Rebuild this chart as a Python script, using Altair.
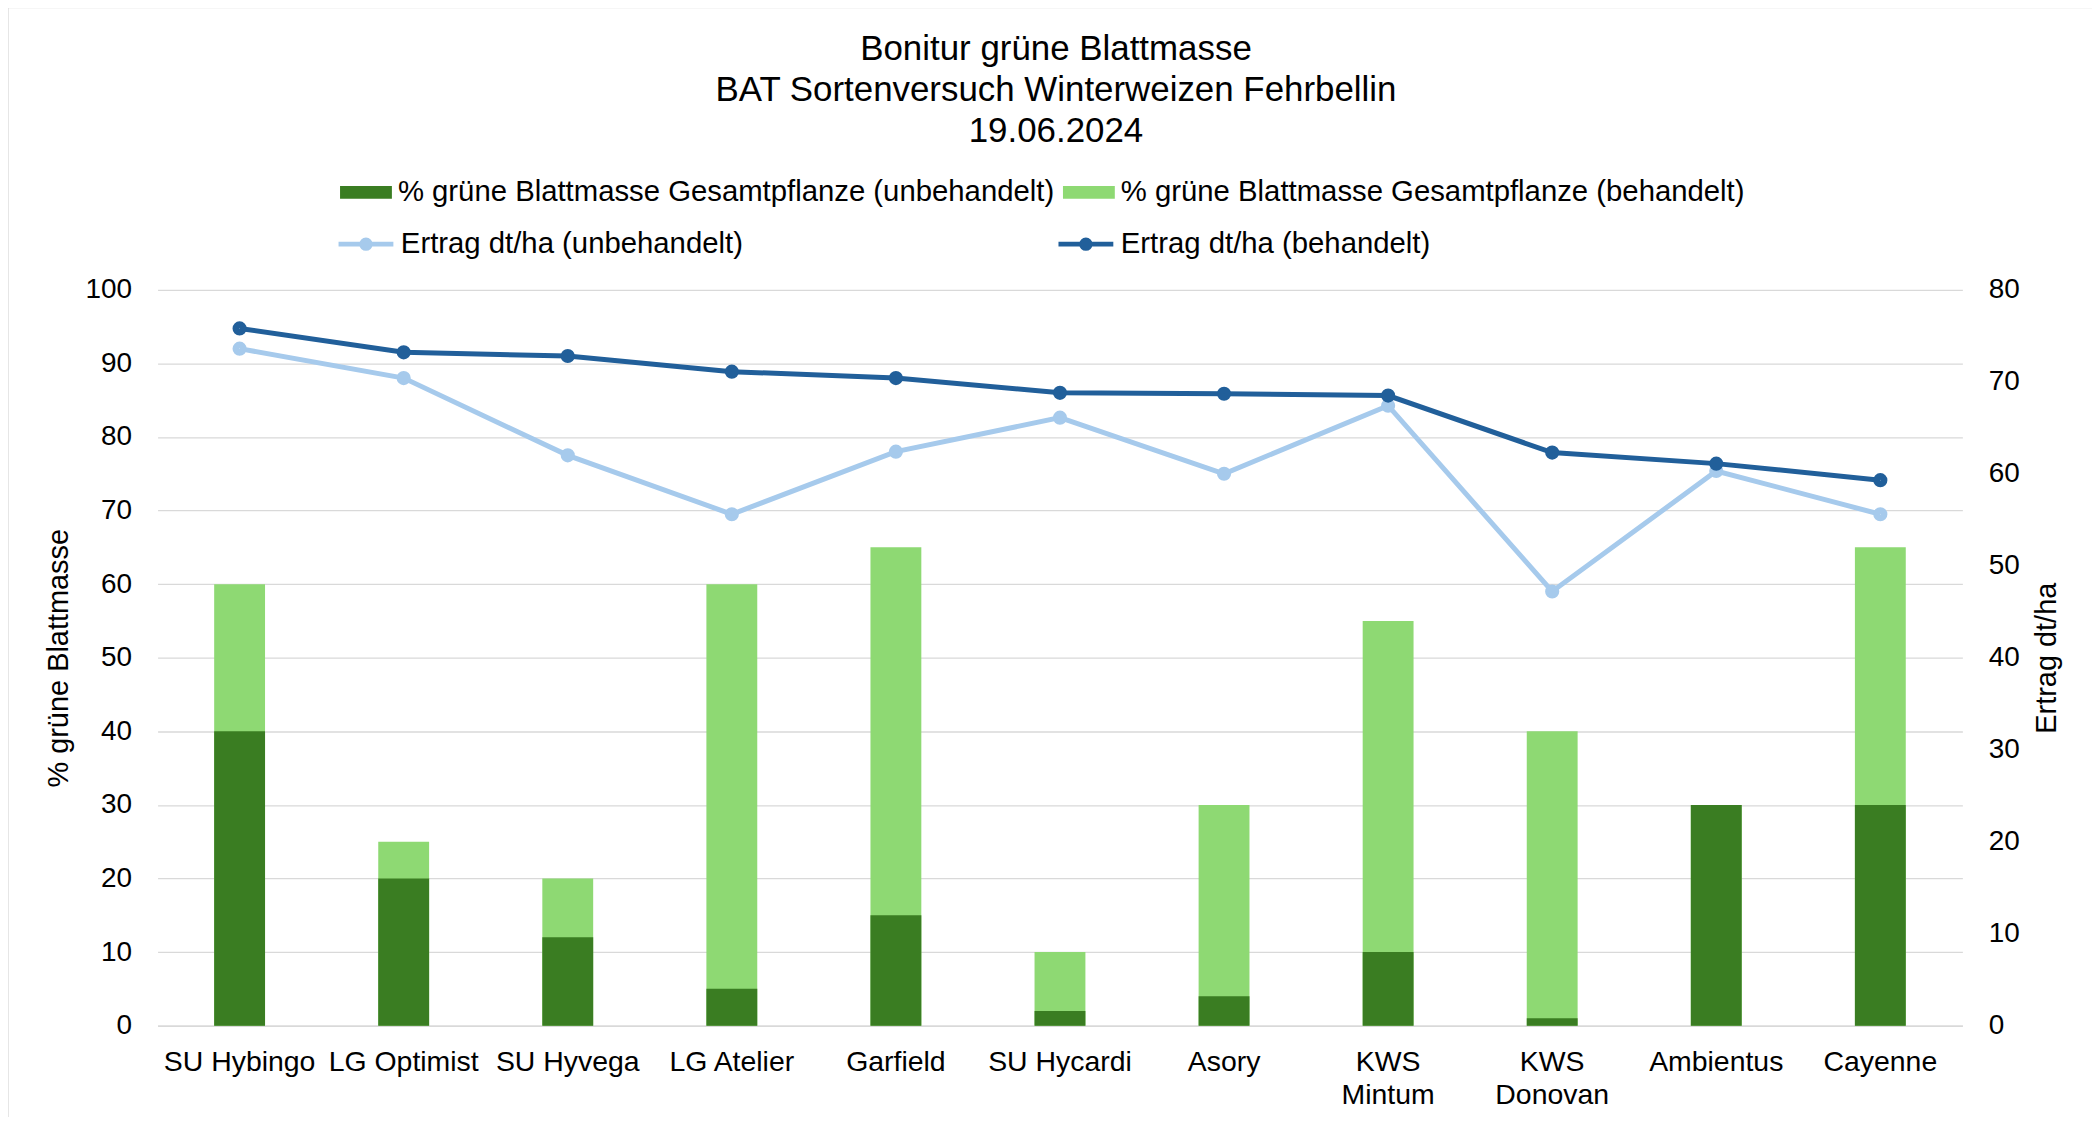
import altair as alt
import pandas as pd

# ---------------- data ----------------
sorten = ["SU Hybingo", "LG Optimist", "SU Hyvega", "LG Atelier", "Garfield",
          "SU Hycardi", "Asory", "KWS Mintum", "KWS Donovan", "Ambientus", "Cayenne"]
gruen_unbehandelt = [40, 20, 12, 5, 15, 2, 4, 10, 1, 30, 30]
gruen_behandelt = [60, 25, 20, 60, 65, 10, 30, 55, 40, 30, 65]
ertrag_unbehandelt = [73.6, 70.4, 62.0, 55.6, 62.4, 66.1, 60.0, 67.4, 47.2, 60.3, 55.6]
ertrag_behandelt = [75.8, 73.2, 72.8, 71.1, 70.4, 68.8, 68.7, 68.5, 62.3, 61.1, 59.3]

bar_series = ["% grüne Blattmasse Gesamtpflanze (unbehandelt)",
              "% grüne Blattmasse Gesamtpflanze (behandelt)"]
line_series = ["Ertrag dt/ha (unbehandelt)", "Ertrag dt/ha (behandelt)"]

title_lines = ["Bonitur grüne Blattmasse", "BAT Sortenversuch Winterweizen Fehrbellin", "19.06.2024"]

# behandelt drawn first (behind), unbehandelt in front
bar_df = pd.DataFrame(
    [{"Sorte": s, "Serie": bar_series[1], "Wert": v} for s, v in zip(sorten, gruen_behandelt)]
    + [{"Sorte": s, "Serie": bar_series[0], "Wert": v} for s, v in zip(sorten, gruen_unbehandelt)]
)
line_df = pd.DataFrame(
    [{"Sorte": s, "Serie": line_series[0], "Ertrag": v} for s, v in zip(sorten, ertrag_unbehandelt)]
    + [{"Sorte": s, "Serie": line_series[1], "Ertrag": v} for s, v in zip(sorten, ertrag_behandelt)]
)

# ---------------- styles ----------------
FONT = "Liberation Sans"
DARK_GREEN = "#3A7D22"
LIGHT_GREEN = "#8ED973"
LIGHT_BLUE = "#A6CAEC"
DARK_BLUE = "#215F9A"
GRID = "#D9D9D9"

x_enc = alt.X(
    "Sorte:N", sort=sorten,
    scale=alt.Scale(paddingInner=0.69, paddingOuter=0.345),
    axis=alt.Axis(
        title=None, labelAngle=0, labelFont=FONT, labelFontSize=28.5, labelColor="black",
        labelPadding=22, ticks=False, tickSize=0, domain=True, domainColor=GRID,
        domainWidth=1.5, labelBaseline="top", labelLineHeight=33, labelOverlap=False,
        labelLimit=400,
        labelExpr="indexof(datum.value, 'KWS ') == 0 ? split(datum.value, ' ') : datum.value",
    ),
)

bar_legend = alt.Legend(
    title=None, orient="none", legendX=183, legendY=-124, direction="horizontal",
    columns=2, columnPadding=8, padding=0,
    symbolType="M-1,-0.25H1V0.25H-1Z", symbolSize=2704, symbolStrokeWidth=0,
    labelFont=FONT, labelFontSize=29.4, labelColor="black", labelOffset=6, labelLimit=1200,
)

LINE_SYMBOL = ("M-1,0H1"
               "M0.155,0A0.155,0.155,0,1,1,-0.155,0A0.155,0.155,0,1,1,0.155,0"
               "M0.073,0A0.073,0.073,0,1,1,-0.073,0A0.073,0.073,0,1,1,0.073,0")
line_legend = alt.Legend(
    title=None, orient="none", legendX=179, legendY=-76, direction="horizontal",
    columns=2, columnPadding=305, padding=0,
    symbolType=LINE_SYMBOL, symbolSize=3025, symbolStrokeWidth=4.8,
    symbolFillColor="transparent",
    labelFont=FONT, labelFontSize=29.4, labelColor="black", labelOffset=5, labelLimit=1200,
)

bars = alt.Chart(bar_df).mark_bar().encode(
    x=x_enc,
    y=alt.Y(
        "Wert:Q", stack=None, scale=alt.Scale(domain=[0, 100]),
        axis=alt.Axis(
            orient="left", values=list(range(0, 101, 10)), grid=True, gridColor=GRID,
            gridWidth=1.3, domain=False, ticks=False, tickSize=0,
            labelFont=FONT, labelFontSize=28, labelColor="black", labelPadding=26,
            title="% grüne Blattmasse", titleFont=FONT, titleFontSize=29,
            titleFontWeight="normal", titleColor="black", titleAngle=270,
            titleX=-99, titleY=369, titleAlign="center", titleBaseline="middle",
        ),
    ),
    color=alt.Color("Serie:N", scale=alt.Scale(domain=bar_series, range=[DARK_GREEN, LIGHT_GREEN]),
                    legend=bar_legend),
)

y_right = alt.Y(
    "Ertrag:Q", scale=alt.Scale(domain=[0, 80]),
    axis=alt.Axis(
        orient="right", values=list(range(0, 81, 10)), grid=False, domain=False,
        ticks=False, tickSize=0, labelFont=FONT, labelFontSize=28, labelColor="black",
        labelPadding=26, title="Ertrag dt/ha", titleFont=FONT, titleFontSize=29,
        titleFontWeight="normal", titleColor="black", titleAngle=270,
        titleX=84, titleY=369, titleAlign="center", titleBaseline="middle",
    ),
)
stroke_enc = alt.Stroke("Serie:N", scale=alt.Scale(domain=line_series, range=[LIGHT_BLUE, DARK_BLUE]),
                        legend=line_legend)

lines = alt.Chart(line_df).mark_line(strokeWidth=5).encode(x=x_enc, y=y_right, stroke=stroke_enc)
points = alt.Chart(line_df).mark_point(filled=False, size=45, strokeWidth=7.5, opacity=1).encode(
    x=x_enc, y=y_right, stroke=stroke_enc)

line_layer = alt.layer(lines, points)

border = alt.Chart(alt.Data(values=[{"k": 1}])).mark_rect(
    fill="transparent", stroke=GRID, strokeWidth=1.3
).encode(x=alt.value(-150), x2=alt.value(2000), y=alt.value(-283), y2=alt.value(900))

chart = alt.layer(border, bars, line_layer).resolve_scale(y="independent").properties(
    width=1810, height=738,
    title=alt.TitleParams(text=title_lines, font=FONT, fontSize=35, fontWeight="normal",
                          color="black", lineHeight=41, anchor="middle", offset=-142, dx=-4),
    autosize=alt.AutoSizeParams(type="none"),
    padding={"left": 150, "top": 281, "right": 130, "bottom": 90},
    background="white",
).configure_view(stroke="transparent")

chart.save("out.html", embed_options={"renderer": "svg", "actions": False})
